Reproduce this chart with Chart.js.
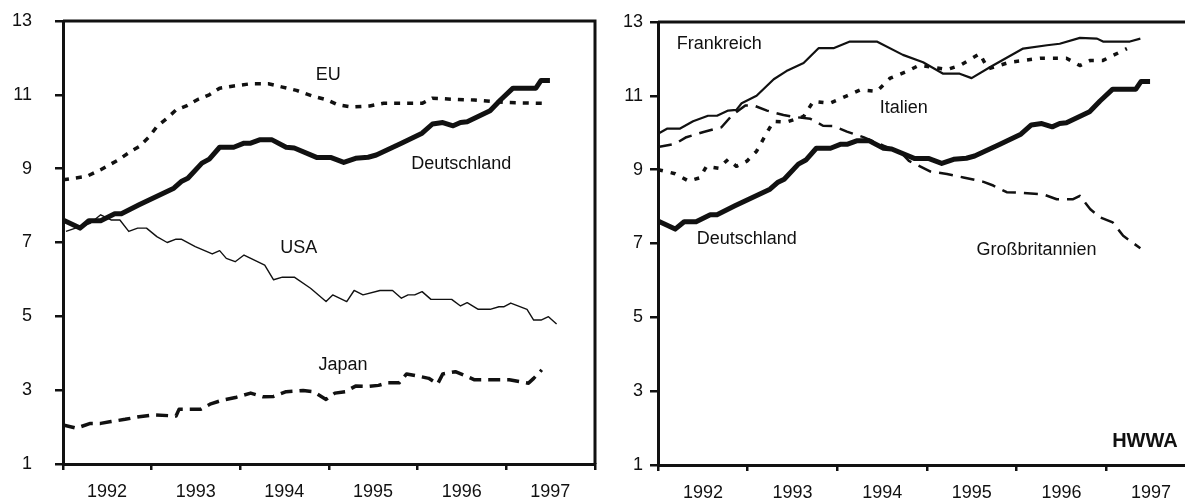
<!DOCTYPE html>
<html lang="de">
<head>
<meta charset="utf-8">
<title>Arbeitslosenquoten 1992-1997</title>
<script src="https://cdn.jsdelivr.net/npm/chart.js@4.4.1/dist/chart.umd.min.js"></script>
<style>
    html, body { margin: 0; padding: 0; background: #fff; width: 1185px; height: 502px; overflow: hidden; }
    .panel { position: absolute; top: 0; height: 502px; width: 600px; }
    #links { left: 0; }
    #rechts { left: 600px; }
</style>
</head>
<body>
<div class="panel" id="links"><canvas id="chartLinks"></canvas></div>
<div class="panel" id="rechts"><canvas id="chartRechts"></canvas></div>
<script>
// Achsenbeschriftung
const jahre = ['1992', '1993', '1994', '1995', '1996', '1997'];

// Daten: Monate ab Januar 1992, Werte in %
const monateDeutschland = [0, 2.3, 3.5, 5.1, 7.0, 7.9, 10.3, 15.0, 16.0, 16.9, 18.8, 19.8, 21.2, 23.1, 24.5, 25.4, 26.6, 28.3, 30.2, 31.3, 34.4, 36.3, 38.0, 39.6, 41.3, 42.4, 45.8, 48.6, 50.0, 51.4, 52.8, 53.8, 54.7, 57.8, 59.2, 60.9, 62.3, 64.0, 64.7, 65.9];
const deutschland = [7.61, 7.39, 7.59, 7.59, 7.78, 7.78, 8.02, 8.47, 8.65, 8.74, 9.15, 9.26, 9.58, 9.58, 9.69, 9.69, 9.78, 9.78, 9.58, 9.56, 9.30, 9.30, 9.17, 9.28, 9.31, 9.37, 9.69, 9.96, 10.21, 10.25, 10.16, 10.25, 10.27, 10.57, 10.86, 11.18, 11.18, 11.18, 11.39, 11.39];

const monateEU = [0, 3.2, 5.1, 7.5, 9.1, 10.3, 11.7, 12.7, 14.1, 15.3, 16.7, 18.3, 19.8, 21.2, 23.1, 25.4, 27.8, 29.7, 31.6, 33.9, 35.8, 37.2, 39.1, 41.5, 43.4, 46.2, 48.6, 50.0, 52.8, 55.7, 58.0, 60.4, 64.9];
const eu = [8.70, 8.79, 8.97, 9.24, 9.46, 9.60, 9.87, 10.14, 10.37, 10.59, 10.70, 10.88, 11.0, 11.18, 11.24, 11.30, 11.30, 11.21, 11.12, 10.96, 10.86, 10.73, 10.67, 10.70, 10.77, 10.77, 10.77, 10.91, 10.88, 10.86, 10.82, 10.79, 10.77];

const monateUSA = [0.4, 2.3, 3.7, 5.1, 6.5, 7.7, 8.9, 10.1, 11.3, 12.7, 14.1, 15.3, 16.0, 17.9, 20.2, 21.2, 22.1, 23.3, 24.5, 27.3, 28.5, 29.7, 31.3, 33.5, 35.6, 36.5, 38.4, 39.4, 40.6, 42.9, 44.6, 45.8, 46.7, 47.6, 48.6, 49.8, 52.6, 53.8, 54.7, 56.2, 57.8, 59.0, 59.7, 60.6, 62.8, 63.7, 64.7, 65.7, 66.8];
const usa = [7.30, 7.43, 7.52, 7.75, 7.61, 7.61, 7.30, 7.39, 7.39, 7.16, 7.00, 7.09, 7.09, 6.89, 6.69, 6.78, 6.57, 6.48, 6.66, 6.39, 5.99, 6.06, 6.06, 5.76, 5.40, 5.58, 5.40, 5.70, 5.58, 5.70, 5.70, 5.49, 5.58, 5.58, 5.67, 5.46, 5.46, 5.28, 5.37, 5.19, 5.19, 5.26, 5.26, 5.36, 5.19, 4.90, 4.90, 4.99, 4.79];

const monateJapan = [0, 1.8, 3.7, 5.1, 6.5, 8.4, 10.3, 12.2, 15.3, 15.7, 18.6, 20.0, 21.6, 23.5, 25.4, 27.1, 28.5, 30.2, 32.5, 33.9, 35.6, 36.8, 38.2, 39.6, 41.3, 42.7, 43.9, 45.5, 46.5, 48.1, 49.5, 50.7, 51.4, 53.1, 54.7, 55.7, 57.6, 60.4, 61.8, 63.0, 63.7, 64.8];
const japan = [2.06, 1.97, 2.10, 2.10, 2.15, 2.21, 2.28, 2.33, 2.30, 2.48, 2.48, 2.63, 2.73, 2.81, 2.92, 2.82, 2.83, 2.96, 2.99, 2.96, 2.75, 2.92, 2.96, 3.11, 3.10, 3.13, 3.20, 3.20, 3.44, 3.38, 3.32, 3.17, 3.44, 3.50, 3.37, 3.28, 3.28, 3.28, 3.23, 3.19, 3.32, 3.55];

const monateFrankreich = [0, 1.2, 2.9, 4.7, 6.7, 7.9, 9.4, 10.5, 11.2, 13.2, 15.5, 17.2, 19.5, 21.5, 23.5, 25.7, 29.3, 32.8, 35.5, 38.2, 40.4, 42.0, 44.5, 48.9, 52.1, 53.8, 56.5, 58.8, 59.6, 63.2, 64.6];
const frankreich = [9.97, 10.11, 10.11, 10.31, 10.46, 10.46, 10.60, 10.62, 10.80, 11.0, 11.45, 11.67, 11.89, 12.29, 12.29, 12.47, 12.47, 12.11, 11.91, 11.60, 11.60, 11.48, 11.78, 12.28, 12.37, 12.41, 12.57, 12.55, 12.47, 12.47, 12.55];

const monateItalien = [0, 2.3, 4.1, 5.6, 6.5, 8.1, 9.4, 10.5, 11.9, 13.2, 14.8, 15.5, 17.2, 19.5, 20.8, 23.0, 25.3, 27.1, 29.3, 31.1, 33.3, 35.0, 38.7, 40.4, 43.1, 44.2, 47.1, 51.2, 54.7, 56.5, 57.9, 59.6, 61.9, 62.8];
const italien = [9.0, 8.89, 8.69, 8.78, 9.09, 9.04, 9.28, 9.09, 9.23, 9.50, 10.08, 10.31, 10.29, 10.44, 10.85, 10.80, 11.0, 11.16, 11.12, 11.48, 11.66, 11.83, 11.71, 11.82, 12.14, 11.73, 11.91, 12.02, 12.02, 11.82, 11.96, 11.96, 12.19, 12.28];

const monateGB = [0, 2.3, 3.8, 6.1, 8.5, 9.9, 11.7, 12.8, 14.6, 16.8, 18.6, 20.4, 22.1, 23.5, 25.3, 27.5, 30.2, 32.5, 33.6, 36.5, 38.7, 40.9, 43.6, 44.9, 46.7, 48.9, 51.6, 53.4, 55.6, 56.5, 57.9, 59.2, 60.9, 62.3, 64.6];
const grossbritannien = [9.61, 9.70, 9.88, 10.02, 10.15, 10.47, 10.74, 10.74, 10.60, 10.48, 10.42, 10.38, 10.19, 10.18, 10.03, 9.88, 9.65, 9.47, 9.24, 8.95, 8.88, 8.79, 8.67, 8.57, 8.39, 8.37, 8.33, 8.20, 8.20, 8.29, 7.93, 7.71, 7.57, 7.21, 6.87];

const schrift = '"Liberation Sans", Arial, Helvetica, sans-serif';
const schwarz = '#111';

function punkte(monate, werte) {
    return monate.map((m, i) => ({ x: m, y: werte[i] }));
}

function linie(monate, werte, breite, strich) {
    return {
        data: punkte(monate, werte),
        borderColor: schwarz,
        borderWidth: breite,
        borderDash: strich || [],
        borderCapStyle: 'butt',
        borderJoinStyle: 'round',
        pointRadius: 0,
        tension: 0,
        fill: false
    };
}

// Rahmen oben und rechts
const rahmen = {
    id: 'rahmen',
    afterDraw(chart) {
        const { ctx, chartArea: a } = chart;
        ctx.save();
        ctx.strokeStyle = schwarz;
        ctx.lineWidth = 3;
        ctx.beginPath();
        ctx.moveTo(a.left, a.top);
        ctx.lineTo(a.right, a.top);
        ctx.lineTo(a.right, a.bottom);
        ctx.stroke();
        ctx.restore();
    }
};

// Beschriftung der Linien
const beschriftung = {
    id: 'beschriftung',
    afterDatasetsDraw(chart, args, opts) {
        const { ctx, scales: { x, y } } = chart;
        ctx.save();
        ctx.fillStyle = schwarz;
        ctx.textBaseline = 'middle';
        (opts.items || []).forEach(it => {
            ctx.font = (it.bold ? 'bold ' : '') + (it.size || 18) + 'px ' + schrift;
            ctx.textAlign = it.align || 'center';
            ctx.fillText(it.text, x.getPixelForValue(it.m), y.getPixelForValue(it.v));
        });
        ctx.restore();
    }
};

function optionen(cfg) {
    return {
        responsive: true,
        maintainAspectRatio: false,
        animation: false,
        layout: { padding: { left: 0, right: cfg.rechts, top: cfg.oben, bottom: 0 } },
        plugins: {
            legend: { display: false },
            tooltip: { enabled: false },
            beschriftung: { items: cfg.texte }
        },
        scales: {
            x: {
                type: 'linear',
                min: 0,
                max: 72,
                afterFit: s => { s.height = cfg.xHoehe; s.paddingLeft = 0; s.paddingRight = 0; },
                afterBuildTicks: s => { s.ticks = [0, 12, 24, 36, 48, 60, 72].map(v => ({ value: v })); },
                ticks: {
                    autoSkip: false,
                    maxRotation: 0,
                    padding: 11,
                    labelOffset: cfg.versatz,
                    color: schwarz,
                    font: { family: schrift, size: 18 },
                    callback: v => jahre[v / 12] || ''
                },
                grid: { drawOnChartArea: false, tickLength: 6, color: schwarz, lineWidth: 2.5 },
                border: { display: true, color: schwarz, width: 3 }
            },
            y: {
                min: 1,
                max: 13,
                // feste Breite, Innenabstand oben/unten nicht vergrößern
                afterFit: s => { s.width = cfg.yBreite; s.paddingTop = 0; s.paddingBottom = 0; },
                ticks: {
                    stepSize: 2,
                    padding: cfg.yAbstand,
                    color: schwarz,
                    font: { family: schrift, size: 18 }
                },
                grid: { drawOnChartArea: false, tickLength: 8, color: schwarz, lineWidth: 2.5 },
                border: { display: true, color: schwarz, width: 3 }
            }
        }
    };
}

window.onload = function() {
    // Linkes Diagramm: EU, Deutschland, USA, Japan
    new Chart(document.getElementById('chartLinks').getContext('2d'), {
        type: 'line',
        data: {
            datasets: [
                linie(monateEU, eu, 3.5, [6, 7]),
                linie(monateUSA, usa, 1.4),
                linie(monateJapan, japan, 3.5, [12, 7]),
                linie(monateDeutschland, deutschland, 5)
            ]
        },
        options: optionen({
            rechts: 5, oben: 21, xHoehe: 38, yBreite: 63, yAbstand: 23, versatz: 44,
            texte: [
                { text: 'EU', m: 35.9, v: 11.54 },
                { text: 'Deutschland', m: 53.9, v: 9.13 },
                { text: 'USA', m: 31.9, v: 6.85 },
                { text: 'Japan', m: 37.9, v: 3.68 }
            ]
        }),
        plugins: [rahmen, beschriftung]
    });

    // Rechtes Diagramm: Frankreich, Italien, Großbritannien, Deutschland
    new Chart(document.getElementById('chartRechts').getContext('2d'), {
        type: 'line',
        data: {
            datasets: [
                linie(monateFrankreich, frankreich, 2.2),
                linie(monateItalien, italien, 3.5, [5, 8]),
                linie(monateGB, grossbritannien, 2.5, [14, 8]),
                linie(monateDeutschland, deutschland, 5)
            ]
        },
        options: optionen({
            rechts: 4.4, oben: 22, xHoehe: 37, yBreite: 58, yAbstand: 7, versatz: 45,
            texte: [
                { text: 'Frankreich', m: 8.2, v: 12.40 },
                { text: 'Italien', m: 32.9, v: 10.67 },
                { text: 'Deutschland', m: 11.9, v: 7.12 },
                { text: 'Großbritannien', m: 50.7, v: 6.83 },
                { text: 'HWWA', m: 69.6, v: 1.64, align: 'right', bold: true, size: 20 }
            ]
        }),
        plugins: [rahmen, beschriftung]
    });
};
</script>
</body>
</html>
